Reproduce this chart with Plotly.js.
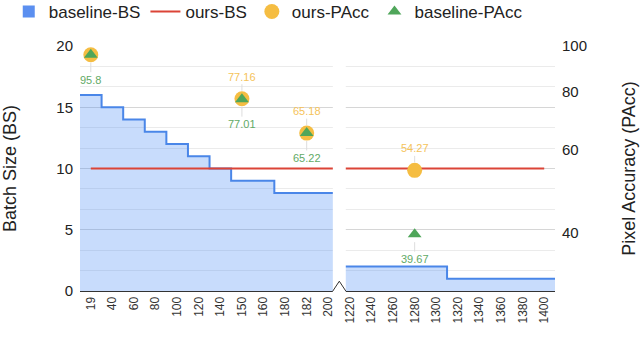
<!DOCTYPE html>
<html>
<head>
<meta charset="utf-8">
<script src="https://cdn.plot.ly/plotly-3.0.1.min.js"></script>
<style>
  body { margin: 0; background: #fff; }
  #chart { width: 640px; height: 362px; }
</style>
</head>
<body>
<div id="chart"></div>
<script>
// x categories, left and right of the axis break
const leftCats = ['19', '40', '60', '80', '100', '120', '140', '150', '160', '180', '182', '200'];
const rightCats = ['1220', '1240', '1260', '1280', '1300', '1320', '1340', '1360', '1380', '1400'];
const categories = leftCats.concat(rightCats);

// batch sizes
const baselineBS = [16, 15, 14, 13, 12, 11, 10, 9, 9, 8, 8, 8, 2, 2, 2, 2, 2, 1, 1, 1, 1, 1];
const oursBS = [10, 10, 10, 10, 10, 10, 10, 10, 10, 10, 10, 10, 10, 10, 10, 10, 10, 10, 10, 10, 10, 10];

// pixel accuracy points
const paccCats = ['19', '150', '182', '1280'];
const oursPAcc = [95.8, 77.16, 65.18, 54.27];
const baselinePAcc = [95.8, 77.01, 65.22, 39.67];
const oursLabels = ['', '77.16', '65.18', '54.27'];
const baselineLabels = ['95.8', '77.01', '65.22', '39.67'];
const paccTicks = [40, 60, 80, 100];

const FONT = 'Arial, "Liberation Sans", sans-serif';
const BLUE = '#4a86e8', RED = '#db4437', ORANGE = '#f5bd42', GREEN = '#4fa65a';

const idx = c => categories.indexOf(c);
const catIdx = categories.map((c, i) => i);

// step edges: each category fills its own band
const stepX = catIdx.map(i => i - 0.5).concat([categories.length - 0.5]);
const stepY = baselineBS.concat([baselineBS[baselineBS.length - 1]]);

const paccX = paccCats.map(idx);

let traces = [
    {
        x: stepX, y: stepY,
        type: 'scatter', mode: 'lines',
        line: {shape: 'hv', color: BLUE, width: 2},
        fill: 'tozeroy', fillcolor: 'rgba(66,133,244,0.29)',
        showlegend: false, hoverinfo: 'skip'
    },
    {
        // legend entry only
        x: [null], y: [null], type: 'bar', name: 'baseline-BS',
        marker: {color: '#5b8ff0'}
    },
    {
        x: catIdx, y: oursBS, type: 'scatter', mode: 'lines', name: 'ours-BS',
        line: {color: RED, width: 2}
    },
    {
        x: paccX, y: oursPAcc, yaxis: 'y2', type: 'scatter', mode: 'markers', name: 'ours-PAcc',
        marker: {color: ORANGE, size: 15, symbol: 'circle'}
    },
    {
        x: paccX, y: baselinePAcc, yaxis: 'y2', type: 'scatter', mode: 'markers', name: 'baseline-PAcc',
        marker: {color: GREEN, size: 12, symbol: 'triangle-up'}
    }
];

let annotations = [];
paccX.forEach((x, i) => {
    if (oursLabels[i]) {
        annotations.push({
            x: x, y: Math.log10(oursPAcc[i]), xref: 'x', yref: 'y2',
            text: oursLabels[i], showarrow: true, arrowhead: 0, arrowwidth: 1,
            arrowcolor: '#dddddd', ax: 0, ay: -22, standoff: 8,
            font: {family: FONT, size: 11, color: '#f5c35a'}
        });
    }
    annotations.push({
        x: x, y: Math.log10(baselinePAcc[i]), xref: 'x', yref: 'y2',
        text: baselineLabels[i], showarrow: true, arrowhead: 0, arrowwidth: 1,
        arrowcolor: '#dddddd', ax: 0, ay: 25, standoff: 8,
        font: {family: FONT, size: 11, color: '#62aa66'}
    });
});

let layout = {
    width: 640, height: 362,
    margin: {l: 80, r: 85, t: 46, b: 71, autoexpand: false},
    paper_bgcolor: '#fff', plot_bgcolor: '#fff',
    font: {family: FONT, color: '#222'},
    showlegend: true,
    legend: {
        orientation: 'h', x: -0.15, xanchor: 'left', y: 1.139, yanchor: 'middle',
        font: {family: FONT, size: 17, color: '#222'},
        traceorder: 'normal', itemwidth: 30
    },
    xaxis: {
        range: [-0.5, categories.length - 0.5],
        tickmode: 'array', tickvals: catIdx, ticktext: categories,
        tickangle: -90, tickfont: {size: 12, color: '#333'},
        showgrid: false, zeroline: false,
        showline: true, linecolor: '#333', linewidth: 1, ticks: ''
    },
    yaxis: {
        range: [0, 20], dtick: 5, tick0: 0,
        tickfont: {size: 15, color: '#222'}, ticklabelstandoff: 6,
        gridcolor: '#d6d6d6', zeroline: false,
        minor: {dtick: 5 / 3, showgrid: true, gridcolor: '#ebebeb'},
        title: {text: 'Batch Size (BS)', font: {size: 18, color: '#222'}, standoff: 38}
    },
    yaxis2: {
        overlaying: 'y', side: 'right', type: 'log',
        range: [Math.log10(30), 2],
        tickmode: 'array', tickvals: paccTicks, ticktext: paccTicks.map(String),
        tickfont: {size: 15, color: '#222'}, ticklabelstandoff: 6,
        showgrid: false, zeroline: false,
        title: {text: 'Pixel Accuracy (PAcc)', font: {size: 18, color: '#222'}, standoff: 36}
    },
    shapes: [
        // axis break gap
        {type: 'rect', xref: 'x', yref: 'paper', x0: 11.21, x1: 11.81, y0: -0.01, y1: 1.01,
         fillcolor: '#fff', line: {width: 0}, layer: 'above'},
        {type: 'path', xref: 'x', yref: 'y', path: 'M 11.21,0 L 11.51,0.8 L 11.81,0',
         line: {color: '#333', width: 1}, layer: 'above'}
    ],
    annotations: annotations
};

Plotly.newPlot('chart', traces, layout, {displayModeBar: false, staticPlot: true});
</script>
</body>
</html>
